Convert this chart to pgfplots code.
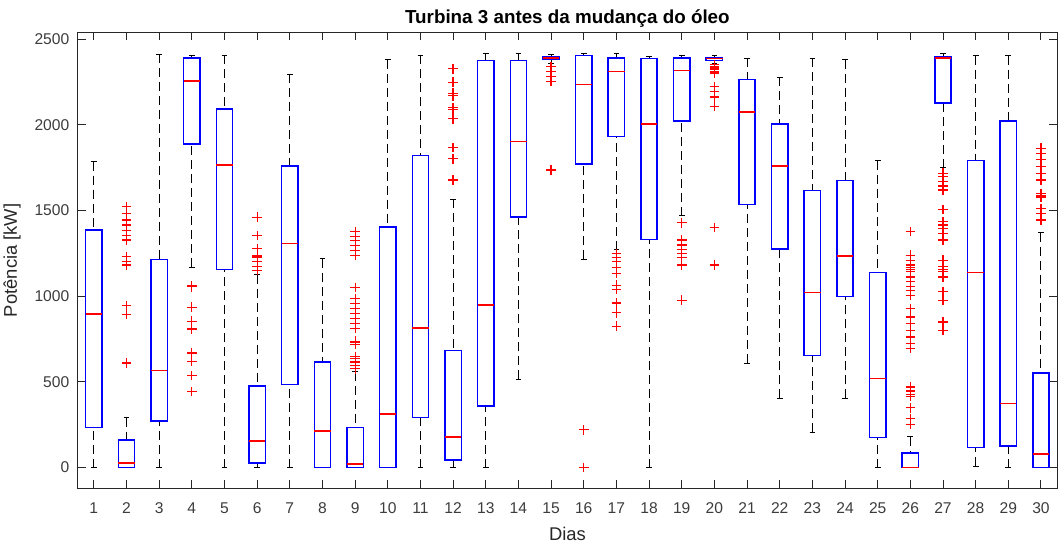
\documentclass[border=0pt]{standalone}
\usepackage{pgfplots}
\pgfplotsset{compat=1.18}
\usepgfplotslibrary{statistics}
\usepackage{fontspec}
\setmainfont{Liberation Sans}

\definecolor{axgray}{rgb}{0.15,0.15,0.15}
\definecolor{mblue}{rgb}{0,0,1}
\definecolor{mred}{rgb}{1,0,0}

% one style for every box
\pgfplotsset{
  bp/.style={color=mblue, mark=+, mark size=2.4pt, mark options={draw=mred, solid, line width=0.6pt}},
}

\begin{document}
\begin{tikzpicture}
\begin{axis}[
    scale only axis,
    width=489.9pt, height=228pt,
    xmin=0.5, xmax=30.5,
    ymin=-121, ymax=2541,
    xtick={1,...,30},
    ytick={0,500,...,2500},
    scaled ticks=false,
    /pgf/number format/1000 sep={},
    /pgf/number format/assume math mode=true,
    tick align=inside, tick pos=both,
    major tick length=4pt,
    axis line style={draw=axgray, line width=0.5pt},
    every tick/.style={axgray, line width=0.5pt},
    ticklabel style={font=\fontsize{7.8}{9}\selectfont, text=axgray!90},
    xticklabel style={anchor=base, yshift=-12.5pt},
    yticklabel style={xshift=-0.6pt},
    title={Turbina 3 antes da mudança do óleo},
    title style={at={(0.5,1)}, anchor=base, yshift=-1.8pt, font=\bfseries\fontsize{9.4}{11}\selectfont},
    xlabel={Dias},
    xlabel style={at={(axis description cs:0.5,0)}, anchor=base, yshift=-26.3pt, font=\fontsize{9.2}{11}\selectfont, text=axgray},
    ylabel={Potência [kW]},
    ylabel style={font=\fontsize{9.2}{11}\selectfont, text=axgray},
    boxplot/draw direction=y,
    boxplot/box extend=0.5,
    boxplot/whisker extend=0.175,
    boxplot/every box/.style={draw=mblue, line width=0.75pt},
    boxplot/every median/.style={draw=mred, line width=0.75pt},
    boxplot/draw/lower whisker/.code={%
      \draw[draw=black, line width=0.5pt, dash pattern=on 4.5pt off 2.5pt]
        (boxplot cs:\pgfplotsboxplotvalue{lower whisker}) --
        (boxplot cs:\pgfplotsboxplotvalue{lower quartile});
      \draw[draw=black, line width=0.5pt]
        (boxplot whisker cs:\pgfplotsboxplotvalue{lower whisker},0) --
        (boxplot whisker cs:\pgfplotsboxplotvalue{lower whisker},1);
    },
    boxplot/draw/upper whisker/.code={%
      \draw[draw=black, line width=0.5pt, dash pattern=on 4.5pt off 2.5pt]
        (boxplot cs:\pgfplotsboxplotvalue{upper whisker}) --
        (boxplot cs:\pgfplotsboxplotvalue{upper quartile});
      \draw[draw=black, line width=0.5pt]
        (boxplot whisker cs:\pgfplotsboxplotvalue{upper whisker},0) --
        (boxplot whisker cs:\pgfplotsboxplotvalue{upper whisker},1);
    },
]

% day 1
\addplot[bp, boxplot prepared={draw position=1, lower whisker=0, lower quartile=234, median=897, upper quartile=1388, upper whisker=1786}] coordinates {};
% day 2
\addplot[bp, boxplot prepared={draw position=2, lower whisker=0, lower quartile=0, median=27, upper quartile=162, upper whisker=292}]
  coordinates {(2,1523) (2,1484) (2,1450) (2,1440) (2,1416) (2,1386) (2,1357) (2,1328) (2,1230) (2,1201) (2,1182) (2,944) (2,893) (2,610)};
% day 3
\addplot[bp, boxplot prepared={draw position=3, lower whisker=0, lower quartile=273, median=567, upper quartile=1215, upper whisker=2414}] coordinates {};
% day 4
\addplot[bp, boxplot prepared={draw position=4, lower whisker=1170, lower quartile=1890, median=2258, upper quartile=2391, upper whisker=2406}]
  coordinates {(4,1061) (4,1055) (4,936) (4,854) (4,809) (4,669) (4,620) (4,538) (4,445)};
% day 5
\addplot[bp, boxplot prepared={draw position=5, lower whisker=0, lower quartile=1156, median=1767, upper quartile=2094, upper whisker=2406}] coordinates {};
% day 6
\addplot[bp, boxplot prepared={draw position=6, lower whisker=0, lower quartile=27, median=154, upper quartile=476, upper whisker=1125}]
  coordinates {(6,1461) (6,1355) (6,1277) (6,1235) (6,1225) (6,1201) (6,1176) (6,1152)};
% day 7
\addplot[bp, boxplot prepared={draw position=7, lower whisker=0, lower quartile=486, median=1308, upper quartile=1759, upper whisker=2297}] coordinates {};
% day 8
\addplot[bp, boxplot prepared={draw position=8, lower whisker=0, lower quartile=0, median=213, upper quartile=616, upper whisker=1219}] coordinates {};
% day 9
\addplot[bp, boxplot prepared={draw position=9, lower whisker=0, lower quartile=0, median=20, upper quartile=234, upper whisker=558}]
  coordinates {(9,1377) (9,1351) (9,1324) (9,1297) (9,1269) (9,1240) (9,1051) (9,987) (9,957) (9,928) (9,899) (9,870) (9,840) (9,811) (9,738) (9,728) (9,718) (9,649) (9,636) (9,616) (9,597) (9,577)};
% day 10
\addplot[bp, boxplot prepared={draw position=10, lower whisker=0, lower quartile=0, median=314, upper quartile=1404, upper whisker=2381}] coordinates {};
% day 11
\addplot[bp, boxplot prepared={draw position=11, lower whisker=0, lower quartile=292, median=815, upper quartile=1823, upper whisker=2406}] coordinates {};
% day 12
\addplot[bp, boxplot prepared={draw position=12, lower whisker=0, lower quartile=43, median=177, upper quartile=683, upper whisker=1566}]
  coordinates {(12,2328) (12,2250) (12,2185) (12,2170) (12,2100) (12,2090) (12,2036) (12,1868) (12,1802) (12,1679)};
% day 13
\addplot[bp, boxplot prepared={draw position=13, lower whisker=0, lower quartile=359, median=948, upper quartile=2375, upper whisker=2420}] coordinates {};
% day 14
\addplot[bp, boxplot prepared={draw position=14, lower whisker=515, lower quartile=1463, median=1903, upper quartile=2375, upper whisker=2420}] coordinates {};
% day 15
\addplot[bp, boxplot prepared={draw position=15, lower whisker=2361, lower quartile=2381, median=2391, upper quartile=2399, upper whisker=2412}]
  coordinates {(15,2342) (15,2313) (15,2283) (15,2254) (15,1737)};
% day 16
\addplot[bp, boxplot prepared={draw position=16, lower whisker=1215, lower quartile=1773, median=2237, upper quartile=2406, upper whisker=2420}]
  coordinates {(16,220) (16,0)};
% day 17
\addplot[bp, boxplot prepared={draw position=17, lower whisker=1271, lower quartile=1932, median=2311, upper quartile=2391, upper whisker=2420}]
  coordinates {(17,1250) (17,1227) (17,1201) (17,1168) (17,1133) (17,1065) (17,1039) (17,961) (17,903) (17,825)};
% day 18
\addplot[bp, boxplot prepared={draw position=18, lower whisker=0, lower quartile=1330, median=2007, upper quartile=2389, upper whisker=2397}] coordinates {};
% day 19
\addplot[bp, boxplot prepared={draw position=19, lower whisker=1470, lower quartile=2022, median=2317, upper quartile=2391, upper whisker=2404}]
  coordinates {(19,1429) (19,1328) (19,1299) (19,1273) (19,1250) (19,1227) (19,1182) (19,977)};
% day 20
\addplot[bp, boxplot prepared={draw position=20, lower whisker=2361, lower quartile=2375, median=2387, upper quartile=2391, upper whisker=2404}]
  coordinates {(20,2352) (20,2342) (20,2332) (20,2323) (20,2313) (20,2303) (20,2225) (20,2196) (20,2163) (20,2108) (20,1402) (20,1182)};
% day 21
\addplot[bp, boxplot prepared={draw position=21, lower whisker=610, lower quartile=1537, median=2075, upper quartile=2264, upper whisker=2389}] coordinates {};
% day 22
\addplot[bp, boxplot prepared={draw position=22, lower whisker=404, lower quartile=1277, median=1759, upper quartile=2007, upper whisker=2280}] coordinates {};
% day 23
\addplot[bp, boxplot prepared={draw position=23, lower whisker=205, lower quartile=655, median=1022, upper quartile=1617, upper whisker=2389}] coordinates {};
% day 24
\addplot[bp, boxplot prepared={draw position=24, lower whisker=404, lower quartile=998, median=1234, upper quartile=1675, upper whisker=2381}] coordinates {};
% day 25
\addplot[bp, boxplot prepared={draw position=25, lower whisker=0, lower quartile=176, median=521, upper quartile=1139, upper whisker=1792}] coordinates {};
% day 26
\addplot[bp, boxplot prepared={draw position=26, lower whisker=0, lower quartile=0, median=0, upper quartile=86, upper whisker=181}]
  coordinates {(26,1377) (26,1240) (26,1211) (26,1182) (26,1167) (26,1157) (26,1143) (26,1113) (26,1084) (26,1055) (26,1035) (26,1006) (26,928) (26,879) (26,840) (26,801) (26,762) (26,723) (26,694) (26,470) (26,447) (26,425) (26,417) (26,349) (26,285) (26,252)};
% day 27
\addplot[bp, boxplot prepared={draw position=27, lower whisker=1751, lower quartile=2127, median=2391, upper quartile=2399, upper whisker=2420}]
  coordinates {(27,1718) (27,1698) (27,1669) (27,1644) (27,1620) (27,1507) (27,1435) (27,1416) (27,1396) (27,1367) (27,1328) (27,1211) (27,1172) (27,1154) (27,1144) (27,1113) (27,1026) (27,977) (27,850) (27,801)};
% day 28
\addplot[bp, boxplot prepared={draw position=28, lower whisker=8, lower quartile=117, median=1139, upper quartile=1794, upper whisker=2404}] coordinates {};
% day 29
\addplot[bp, boxplot prepared={draw position=29, lower whisker=0, lower quartile=125, median=374, upper quartile=2022, upper whisker=2404}] coordinates {};
% day 30
\addplot[bp, boxplot prepared={draw position=30, lower whisker=0, lower quartile=0, median=80, upper quartile=552, upper whisker=1371}]
  coordinates {(30,1864) (30,1835) (30,1800) (30,1757) (30,1718) (30,1679) (30,1601) (30,1590) (30,1580) (30,1513) (30,1484) (30,1445)};

\end{axis}
\pgfresetboundingbox
\path ([shift={(-38.75pt,-27.85pt)}]current axis.south west) rectangle ([shift={(0.85pt,16.15pt)}]current axis.north east);
\end{tikzpicture}
\end{document}
